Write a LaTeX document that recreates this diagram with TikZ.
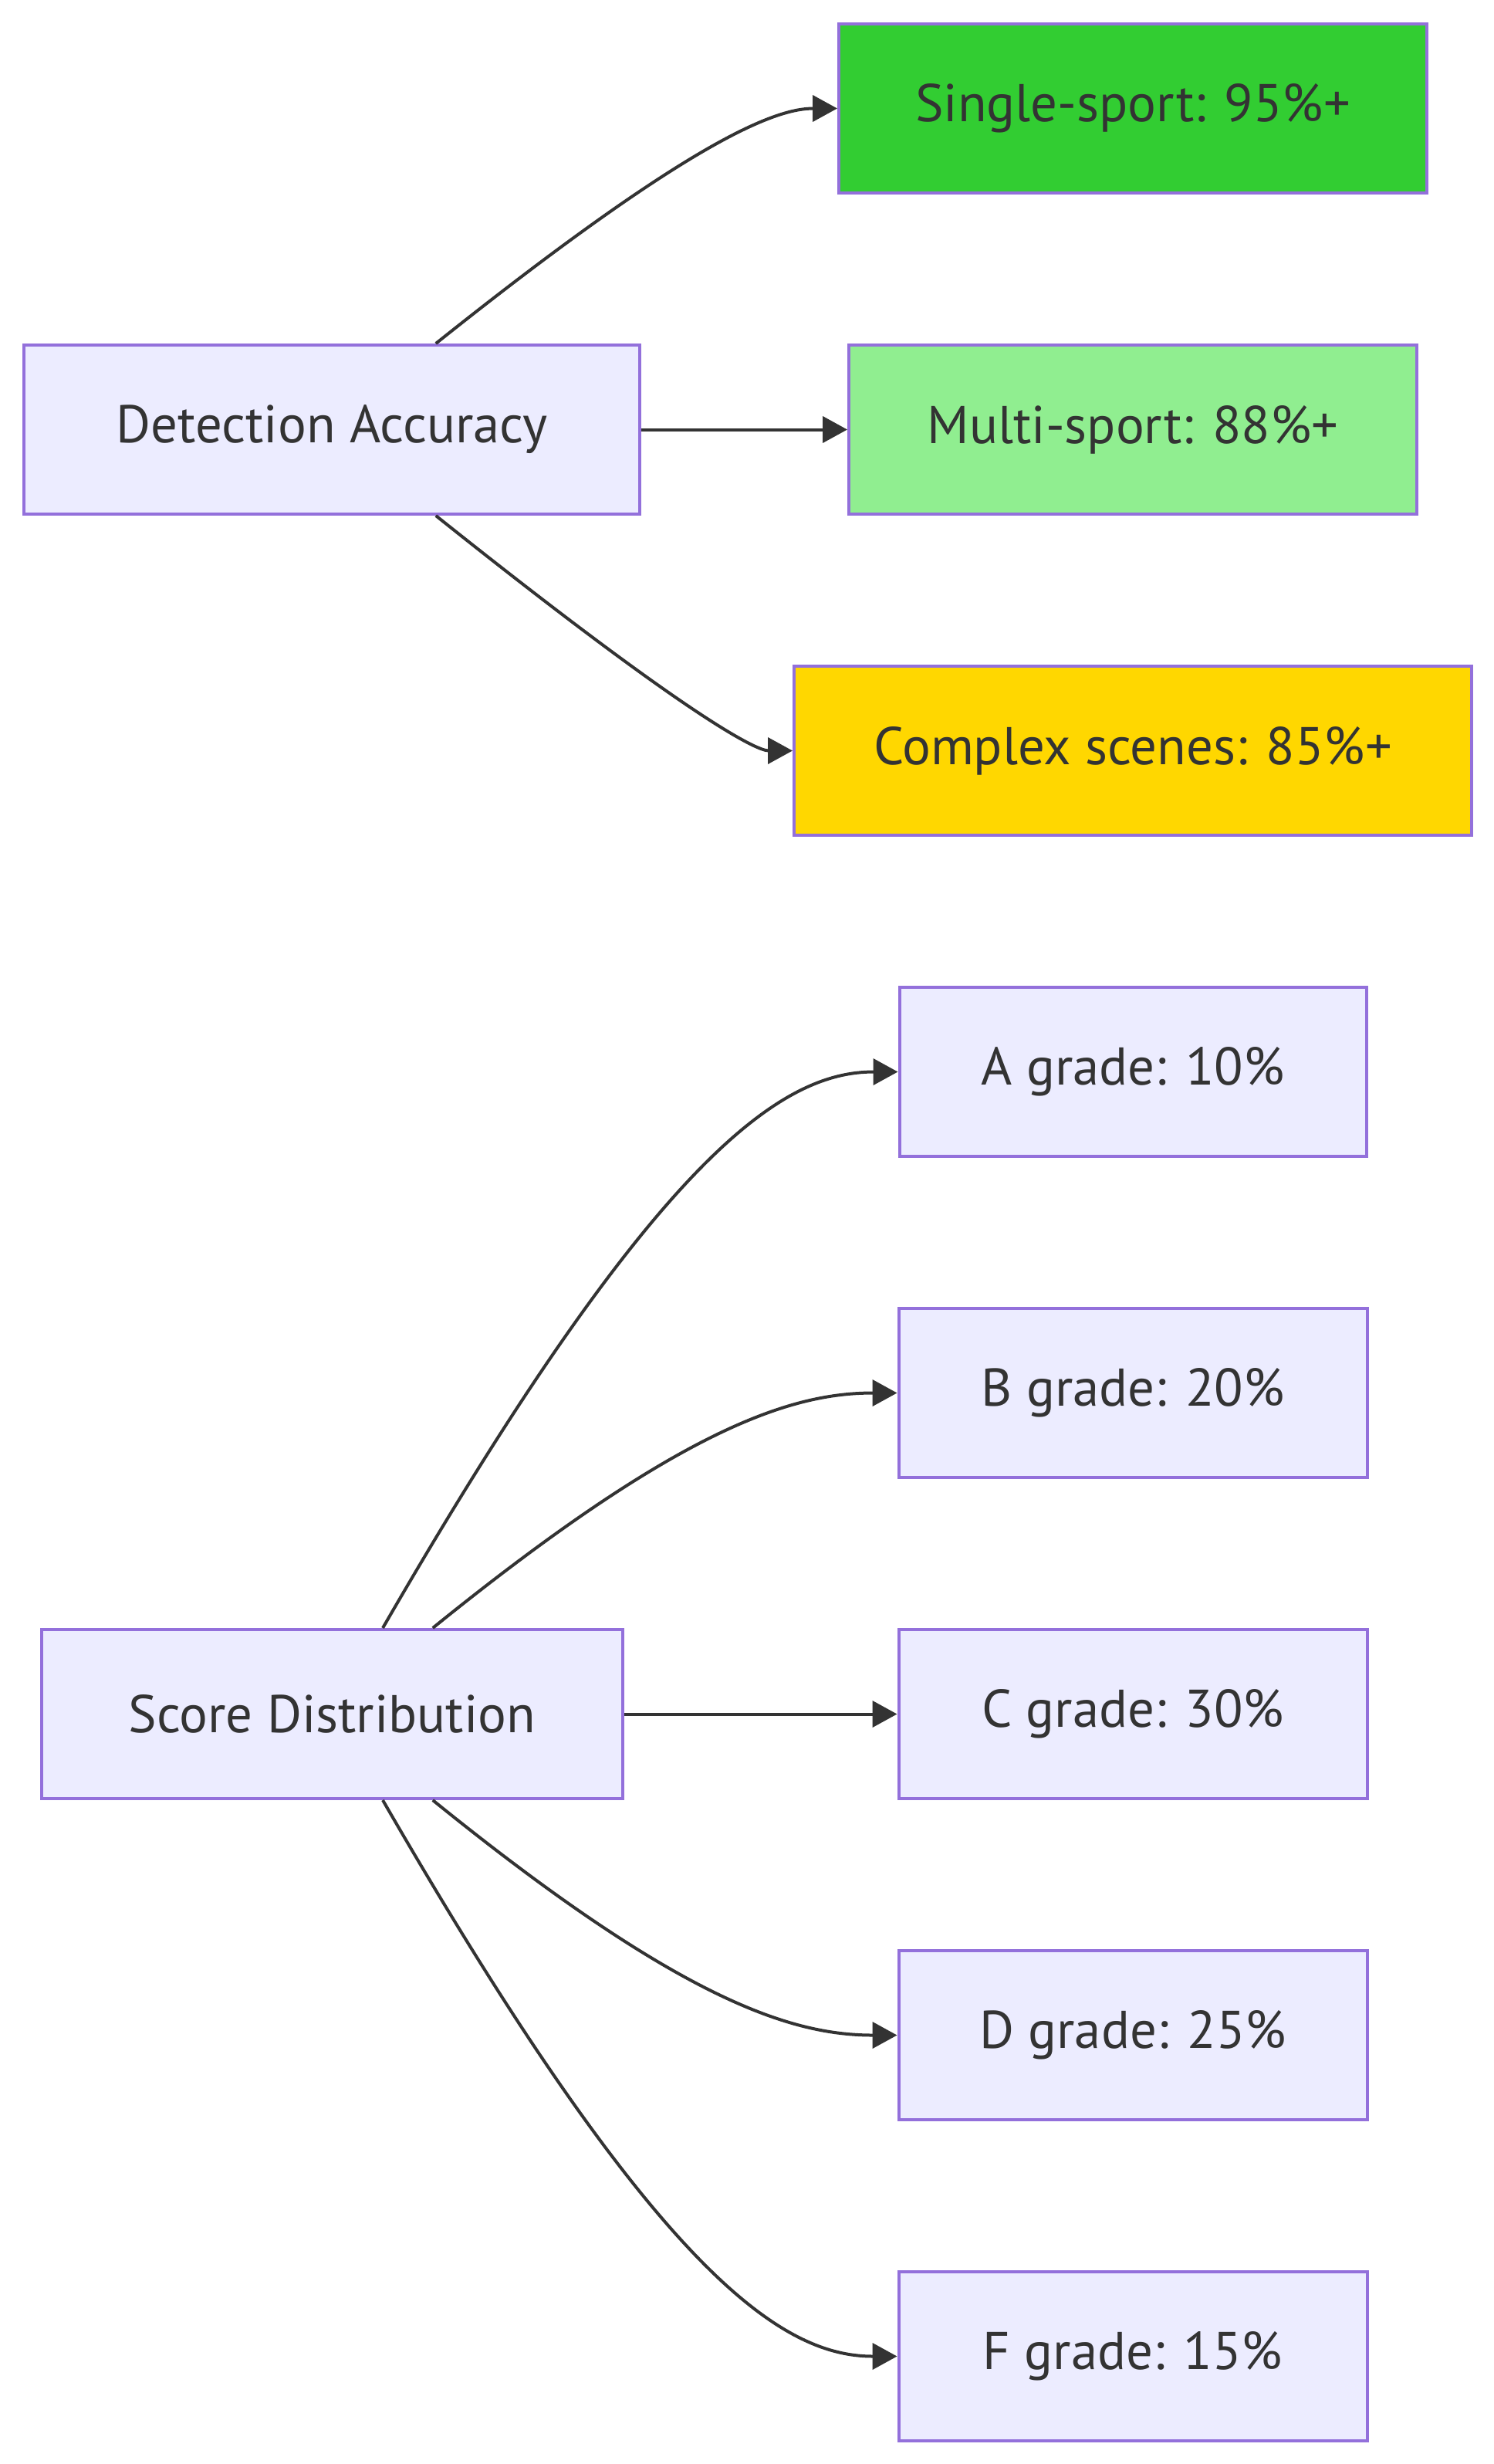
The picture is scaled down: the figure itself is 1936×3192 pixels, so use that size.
\documentclass[tikz,border=0pt]{standalone}
\usepackage{fontspec}
\setmainfont{PT Sans}
\usepackage{tikz}
\usetikzlibrary{positioning, arrows.meta}

\definecolor{nodefill}{HTML}{ECECFF}
\definecolor{nodeline}{HTML}{9370DB}
\definecolor{edgegray}{HTML}{333333}
\definecolor{singlegreen}{HTML}{32CD32}
\definecolor{multigreen}{HTML}{90EE90}
\definecolor{complexgold}{HTML}{FFD700}

\begin{document}
\begin{tikzpicture}[node distance=104pt, x=0.25pt, y=0.25pt]
        % Define block styles
        \tikzstyle{block} = [rectangle, draw=nodeline, line width=1pt, fill=nodefill, text=edgegray, inner sep=0pt, minimum height=54.75pt, font=\fontsize{17.2pt}{20pt}\selectfont]
        \tikzstyle{link} = [draw=edgegray, line width=1pt, -{Triangle[length=8pt, width=8.5pt]}]

        \useasboundingbox (0,0) rectangle (1936,-3192);

        % Place target nodes
        \node [block, fill=singlegreen, minimum width=190.5pt] (single) at (1468,-140.5) {Single-sport: 95\%+};
        \node [block, fill=multigreen, minimum width=184pt, below of=single] (multi) {Multi-sport: 88\%+};
        \node [block, fill=complexgold, minimum width=219.5pt, below of=multi] (complex) {Complex scenes: 85\%+};
        \node [block, minimum width=151.25pt, below of=complex] (gradeA) {A grade: 10\%};
        \node [block, minimum width=151.75pt, below of=gradeA] (gradeB) {B grade: 20\%};
        \node [block, minimum width=151.75pt, below of=gradeB] (gradeC) {C grade: 30\%};
        \node [block, minimum width=151.75pt, below of=gradeC] (gradeD) {D grade: 25\%};
        \node [block, minimum width=151.75pt, below of=gradeD] (gradeF) {F grade: 15\%};

        % Place source nodes
        \node [block, minimum width=199.5pt, left of=multi, node distance=259.4pt] (accuracy) {Detection Accuracy};
        \node [block, minimum width=188.25pt, left of=gradeC, node distance=259.4pt] (score) {Score Distribution};

        % Draw connections from accuracy
        \draw [link] ([xshift=33.6pt]accuracy.north) .. controls +(38.6:417) and +(-82,0) .. (single.west);
        \draw [link] (accuracy.east) -- (multi.west);
        \draw [link] ([xshift=33.6pt]accuracy.south) .. controls +(-38.6:417) and +(-47,0) .. (complex.west);

        % Draw connections from score
        \draw [link] ([xshift=16.4pt]score.north) .. controls +(60:709) and +(-150,0) .. (gradeA.west);
        \draw [link] ([xshift=32.6pt]score.north) .. controls +(39:414) and +(-136,0) .. (gradeB.west);
        \draw [link] (score.east) -- (gradeC.west);
        \draw [link] ([xshift=32.6pt]score.south) .. controls +(-39:414) and +(-136,0) .. (gradeD.west);
        \draw [link] ([xshift=16.4pt]score.south) .. controls +(-60:709) and +(-150,0) .. (gradeF.west);

    \end{tikzpicture}
\end{document}
